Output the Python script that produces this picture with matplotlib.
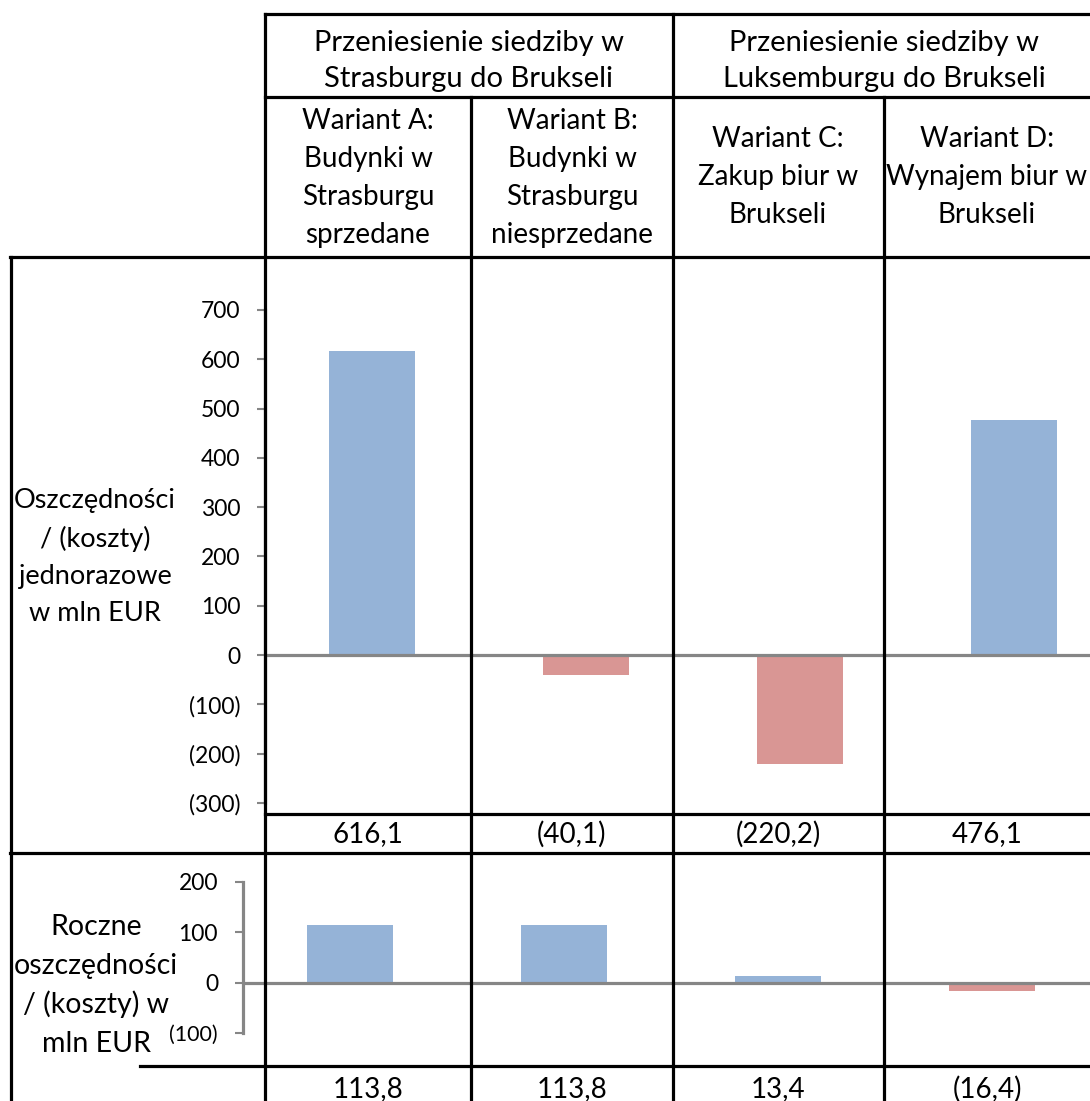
import matplotlib.pyplot as plt
from matplotlib.lines import Line2D

# data
variants = ["A", "B", "C", "D"]
one_off = [616.1, -40.1, -220.2, 476.1]
annual = [113.8, 113.8, 13.4, -16.4]
one_off_labels = ["616,1", "(40,1)", "(220,2)", "476,1"]
annual_labels = ["113,8", "113,8", "13,4", "(16,4)"]
group_titles = ["Przeniesienie siedziby w\nStrasburgu do Brukseli",
                "Przeniesienie siedziby w\nLuksemburgu do Brukseli"]
variant_titles = ["Wariant A:\nBudynki w\nStrasburgu\nsprzedane",
                  "Wariant B:\nBudynki w\nStrasburgu\nniesprzedane",
                  "Wariant C:\nZakup biur w\nBrukseli",
                  "Wariant D:\nWynajem biur w\nBrukseli"]
annual_title = ["Roczne", "oszczędności", "/ (koszty) w", "mln EUR"]
ticks1 = [700, 600, 500, 400, 300, 200, 100, 0, -100, -200, -300]
ticks2 = [200, 100, 0, -100]

W, H = 1090, 1101
BLUE = "#95B3D7"
RED = "#D99694"
GREY = "#868686"
TXT = "Lato"


def fx(x):
    return x / W


def fy(y):
    return 1 - y / H


def fmt(v):
    return f"({abs(v)})" if v < 0 else f"{v}"


def style_axis(ax, pad):
    ax.set_xlim(-0.5, 3.5)
    ax.set_xticks([])
    for s in ["top", "right", "bottom"]:
        ax.spines[s].set_visible(False)
    ax.spines["left"].set_color(GREY)
    ax.spines["left"].set_linewidth(2.3)
    ax.tick_params(axis="y", color=GREY, width=1.5, length=6, pad=pad)
    ax.axhline(0, color=GREY, lw=2.3, zorder=3)
    ax.patch.set_alpha(0)


fig = plt.figure(figsize=(W / 100, H / 100), dpi=100)

# table grid lines (pixel coordinates)
hlines = [(14, 265, 1090), (97, 265, 1090), (257, 10, 1090),
          (814, 265, 1090), (853, 10, 1090), (1066, 140, 1090)]
vlines = [(11, 257, 1101), (265, 14, 1101), (471, 97, 1101),
          (673, 14, 1101), (884, 97, 1101)]
for y, x0, x1 in hlines:
    fig.add_artist(Line2D([fx(x0), fx(x1)], [fy(y), fy(y)], color="black", lw=2.3))
for x, y0, y1 in vlines:
    fig.add_artist(Line2D([fx(x), fx(x)], [fy(y0), fy(y1)], color="black", lw=2.3))

# header texts
for cx, t in zip([469, 884], group_titles):
    fig.text(fx(cx), fy(61), t, ha="center", va="center", fontsize=21,
             family=TXT, linespacing=1.43)
for cx, cy, t in zip([368, 572, 778, 987], [178, 178, 177, 177], variant_titles):
    fig.text(fx(cx), fy(cy), t, ha="center", va="center", fontsize=20,
             family=TXT, linespacing=1.57)

# value rows
for cx, a, b in zip([368, 572, 778, 987], one_off_labels, annual_labels):
    fig.text(fx(cx), fy(834), a, ha="center", va="center", fontsize=20, family=TXT)
    fig.text(fx(cx), fy(1089), b, ha="center", va="center", fontsize=20, family=TXT)

# chart 1: one-off savings
step = 214
ax1 = fig.add_axes([fx(265), fy(803), 4 * step / W, (803 - 310) / H])
cols = [BLUE if v >= 0 else RED for v in one_off]
ax1.bar(range(len(variants)), one_off, width=0.4, color=cols)
ax1.set_ylim(-300, 700)
ax1.set_yticks(ticks1)
ax1.set_yticklabels([fmt(t) for t in ticks1], fontsize=16.5, family=TXT)
style_axis(ax1, 11.5)
fig.text(fx(95), fy(557), "Oszczędności\n/ (koszty)\njednorazowe\nw mln EUR",
         ha="center", va="center", fontsize=19.5, family=TXT, linespacing=1.62)

# chart 2: annual savings
ax2 = fig.add_axes([fx(243), fy(1033), 4 * step / W, (1033 - 882) / H])
cols = [BLUE if v >= 0 else RED for v in annual]
ax2.bar(range(len(variants)), annual, width=0.4, color=cols)
ax2.set_ylim(-100, 200)
ax2.set_yticks(ticks2)
ax2.set_yticklabels([fmt(t) for t in ticks2], fontsize=16.5, family=TXT)
ax2.get_yticklabels()[-1].set_fontsize(15.5)
style_axis(ax2, 12)
for i, line in enumerate(annual_title):
    fig.text(fx(96), fy(935 + 39 * i), line, ha="center", va="baseline",
             fontsize=20.5, family=TXT)

fig.savefig("out.png", dpi=100)
